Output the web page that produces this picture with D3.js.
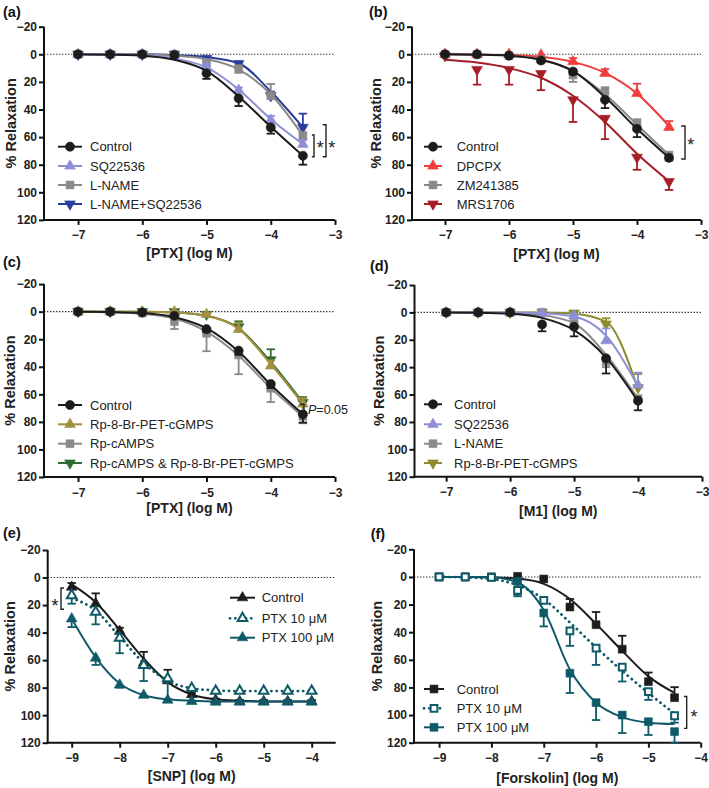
<!DOCTYPE html>
<html><head><meta charset="utf-8">
<script src="https://cdn.jsdelivr.net/npm/d3@7"></script>
<style>
body{margin:0;background:#fff}
text{font-family:"Liberation Sans",Arial,Helvetica,sans-serif}
</style>
</head><body><svg id="c" width="709" height="788"></svg>
<script>
// ---------- doses & ticks ----------
const dosePTX = [-7,-6.5,-6,-5.5,-5,-4.5,-4,-3.5];
const doseM1  = [-7,-6.5,-6,-5.5,-5,-4.5,-4];
const doseSNP = [-9,-8.5,-8,-7.5,-7,-6.5,-6,-5.5,-5,-4.5,-4];
const doseFSK = [-9,-8.5,-8,-7.5,-7,-6.5,-6,-5.5,-5,-4.5];
const yTicks = [-20,0,20,40,60,80,100,120];
const xTicksPTX = [-7,-6,-5,-4,-3];
const xTicksLow = [-9,-8,-7,-6,-5,-4];

// ---------- panel (a) ----------
const aNames = ["Control","SQ22536","L-NAME","L-NAME+SQ22536"];
const aCtrlMean = [0,0,0,0.5,13.8,31.9,53,73.5];
const aCtrlSem  = [0.5,0.5,0.5,1,4,5.6,4.5,6.5];
const aCtrlFit  = [0,0.3,1,4,12,30.5,52.5,73.5];
const aSQMean = [0,0,0,0.5,9,26,47.6,65.2];
const aSQSem  = [0,0,0,0.5,2,2,3,3];
const aSQFit  = [0,0.2,0.7,3,9.5,25.5,47,65];
const aLNMean = [0,0,0,0,6,11,30,59.5];
const aLNSem  = [0,0,0,0.5,2,3,8.5,3];
const aLNFit  = [0,0,0.2,1,3.5,11,29,59];
const aLSMean = [0,0,0,0,3,7,30,53];
const aLSSem  = [0,0,0,0.5,1,2,3,10];
const aLSFit  = [0,0,0,0.5,2,6.5,27,53];

// ---------- panel (b) ----------
const bNames = ["Control","DPCPX","ZM241385","MRS1706"];
const bCtrlMean = [0,0,1,4.5,12.5,33,54,75];
const bCtrlSem  = [0.5,0.5,1,1,2,6,6,2];
const bCtrlFit  = [0,0.3,1,4,12,31,54,75];
const bDPMean = [0,0,0,0.5,5.3,13.8,28.3,52.9];
const bDPSem  = [0,0,0,0.5,2.5,3,7,4.5];
const bDPFit  = [0,0.2,0.5,1.8,5.5,13.5,28.5,52];
const bZMMean = [0,0,1,4,15,26.3,49.5,73];
const bZMSem  = [0,0,0.5,1,5,3,3,2];
const bZMFit  = [0,0.3,1,3.8,12.5,29,51,73];
const bMRMean = [1,11,11,14,33,46.5,74.7,92.3];
const bMRSem  = [0,11,11,12,16,15,9,6];
const bMRFit  = [4,6,10,17,30,49,72,92];

// ---------- panel (c) ----------
const cNames = ["Control","Rp-8-Br-PET-cGMPS","Rp-cAMPS","Rp-cAMPS & Rp-8-Br-PET-cGMPS"];
const cCtrlMean = [0,0,0.5,3,12.7,28.3,52.5,74.5];
const cCtrlSem  = [0.5,0.5,0.5,1,2,3,3,6];
const cCtrlFit  = [0,0.3,1,4,12,29,53,74.5];
const cPGMean = [0,0,0,0,2,12.8,39.4,67];
const cPGSem  = [0,0,0,0.5,1,4.8,4,4.2];
const cPGFit  = [0,0,0.1,0.6,3,12.5,38,67];
const cRAMean = [0,0,1,7.2,15.7,31.4,55.6,76];
const cRASem  = [0,0,0.5,5.4,13,14,10,5];
const cRAFit  = [0,0.4,1.5,5,14.5,32,55.5,76];
const cBOMean = [0,0,0,0,2,11,35,66];
const cBOSem  = [0,0,0,0.5,1,4,7.7,4];
const cBOFit  = [0,0,0.1,0.6,3,12,36.5,66];

// ---------- panel (d) ----------
const dNames = ["Control","SQ22536","L-NAME","Rp-8-Br-PET-cGMPS"];
const dCtrlMean = [0,0,0,8.8,10.5,33.6,64.5];
const dCtrlSem  = [0.5,0.5,0.5,5,7,11,7];
const dCtrlFit  = [0,0.2,1,4,13,33,65];
const dSQMean = [0,0,0,1,2.5,20.7,53];
const dSQSem  = [0,0,0,0.5,1,9,9];
const dSQFit  = [0,0,0.1,0.6,3,17,54];
const dLNMean = [0,0,0,0,8,36,63];
const dLNSem  = [0,0,0,0.5,2,4,3];
const dLNFit  = [0,0,0.5,2,8,31,63];
const dPGMean = [0,0,0,0,0.5,8.5,55];
const dPGSem  = [0,0,0,0,0.5,4.2,10];
const dPGFit  = [0,0,0,0.1,1,7,56];

// ---------- panel (e) ----------
const eNames = ["Control","PTX 10 \u03bcM","PTX 100 \u03bcM"];
const eCtrlMean = [7,19,39,62,75,85,89,90,90,90,90];
const eCtrlSem  = [3,7.5,2.5,8,8,1,1,1,1,1,1];
const eCtrlFit  = [5,18,38,59,76,85,88.5,89.5,90,90,90];
const eP10Mean = [13,25,44,63.7,73.4,80.5,82.5,82.5,82.5,82.5,82.5];
const eP10Sem  = [6,9,11,11.5,15,2,1,1,1,1,1];
const eP10Fit  = [15,24,43,62,75,80.5,82,82.5,82.5,82.5,82.5];
const eP100Mean = [30,58.5,78,85.5,89,90,90.5,90.5,90.5,90.5,90.5];
const eP100Sem  = [6,5,2,1,1,1,1,1,1,1,1];
const eP100Fit  = [30,58,77,85.5,88.5,89.5,90,90,90,90,90];

// ---------- panel (f) ----------
const fNames = ["Control","PTX 10 \u03bcM","PTX 100 \u03bcM"];
const fCtrlMean = [0,0,0,-0.4,1.5,21.8,34.6,52.3,75.8,87.4];
const fCtrlSem  = [0,0,0,0.5,1,5.8,9.2,9.7,6.6,7.6];
const fCtrlFit  = [0,0,0.3,1.2,5,16,34,53.5,72,84];
const fP10Mean = [0,0,0.3,9.7,17,39,51.6,65.3,83,100.5];
const fP10Sem  = [0,0,0.3,4.3,2,10.9,12.1,10.4,6,5];
const fP10Fit  = [0,0.3,1.5,6,16,33,51,68,84,99];
const fP100Mean = [0,0,0,3.2,26.1,69.7,91,100,104.8,112];
const fP100Sem  = [0,0,0,9.6,9.7,14.3,12.6,13,9.6,8];
const fP100Fit  = [0,0,0.3,4,24,67,91,101.5,105.5,106.5];

// ---------- colours ----------
const C = {black:"#1c1c1c", lav:"#8e8ed6", gray:"#8a8a8a", blue:"#2a3d9c", red:"#f03c3c",
  dred:"#a51d27", gold:"#a38f3f", green:"#2f6d32", olive:"#8d8b2f", teal:"#0f5a68"};

function S(name,color,shape,dose,mean,sem,fit,dir,opts){
  return Object.assign({name,color,shape,dose,mean,sem,fit,dir,open:false,dotted:false},opts||{});
}

const panels = [
 {label:"(a)", lab:[3,16.5], left:44,right:335,top:26.7,bottom:219.9, xd:[-7.53,-3], xt:xTicksPTX,
  xtitle:"[PTX] (log M)", xtitleY:257.5, ytitleX:16,
  legend:{x1:58,x2:82,tx:90,y:[146.7,166,185,204]},
  series:[S(aNames[0],C.black,"circle",dosePTX,aCtrlMean,aCtrlSem,aCtrlFit,1),
          S(aNames[1],C.lav,"tri",dosePTX,aSQMean,aSQSem,aSQFit,-1),
          S(aNames[2],C.gray,"square",dosePTX,aLNMean,aLNSem,aLNFit,-1),
          S(aNames[3],C.blue,"tridown",dosePTX,aLSMean,aLSSem,aLSFit,-1)],
  order:[3,2,1,0],
  brackets:[{x:-3.327,tick:-3.36,y1:58.5,y2:74.2,star:-3.23,sy:66},
            {x:-3.14,tick:-3.19,y1:51,y2:74.2,star:-3.05,sy:66}]},
 {label:"(b)", lab:[369,16.5], left:412,right:701,top:26.7,bottom:219.9, xd:[-7.516,-3], xt:xTicksPTX,
  xtitle:"[PTX] (log M)", xtitleY:259, ytitleX:381,
  legend:{x1:424,x2:442,tx:456.7,y:[146.7,166,185,204]},
  series:[S(bNames[0],C.black,"circle",dosePTX,bCtrlMean,bCtrlSem,bCtrlFit,1),
          S(bNames[1],C.red,"tri",dosePTX,bDPMean,bDPSem,bDPFit,-1),
          S(bNames[2],C.gray,"square",dosePTX,bZMMean,bZMSem,bZMFit,1),
          S(bNames[3],C.dred,"tridown",dosePTX,bMRMean,bMRSem,bMRFit,1)],
  order:[3,1,2,0],
  brackets:[{x:-3.25,tick:-3.31,y1:52,y2:75.9,star:-3.16,sy:63.3}]},
 {label:"(c)", lab:[3,267], left:44,right:335,top:284.1,bottom:477, xd:[-7.53,-3], xt:xTicksPTX,
  xtitle:"[PTX] (log M)", xtitleY:513, ytitleX:15,
  legend:{x1:58,x2:82,tx:90,y:[405,424.3,443.7,463]},
  series:[S(cNames[0],C.black,"circle",dosePTX,cCtrlMean,cCtrlSem,cCtrlFit,1),
          S(cNames[1],C.gold,"tri",dosePTX,cPGMean,cPGSem,cPGFit,-1),
          S(cNames[2],C.gray,"square",dosePTX,cRAMean,cRASem,cRAFit,1),
          S(cNames[3],C.green,"tridown",dosePTX,cBOMean,cBOSem,cBOFit,-1)],
  order:[2,3,1,0],
  pnote:{x:-3.483,tick:-3.545,y1:67.2,y2:75.7,tx:-3.42,ty:74}},
 {label:"(d)", lab:[370,271], left:414.5,right:702,top:285,bottom:476.7, xd:[-7.495,-3], xt:xTicksPTX,
  xtitle:"[M1] (log M)", xtitleY:516, ytitleX:384,
  legend:{x1:424,x2:442,tx:454,y:[404.3,424.3,443.7,463]},
  series:[S(dNames[0],C.black,"circle",doseM1,dCtrlMean,dCtrlSem,dCtrlFit,1),
          S(dNames[1],C.lav,"tri",doseM1,dSQMean,dSQSem,dSQFit,-1),
          S(dNames[2],C.gray,"square",doseM1,dLNMean,dLNSem,dLNFit,1),
          S(dNames[3],C.olive,"tridown",doseM1,dPGMean,dPGSem,dPGFit,-1)],
  order:[3,2,1,0]},
 {label:"(e)", lab:[3,537.5], left:47.7,right:335.7,top:550,bottom:742.7, xd:[-9.5,-3.5], xt:xTicksLow,
  xtitle:"[SNP] (log M)", xtitleY:781, ytitleX:15,
  legend:{x1:230,x2:255,tx:261.7,y:[597.7,618.3,637.7]},
  series:[S(eNames[0],C.black,"tri",doseSNP,eCtrlMean,eCtrlSem,eCtrlFit,-1),
          S(eNames[1],C.teal,"tri",doseSNP,eP10Mean,eP10Sem,eP10Fit,1,{open:true,dotted:true}),
          S(eNames[2],C.teal,"tri",doseSNP,eP100Mean,eP100Sem,eP100Fit,1)],
  order:[0,2,1],
  brackets:[{x:-9.223,tick:-9.16,y1:7.6,y2:23,star:-9.35,sy:18.5}]},
 {label:"(f)", lab:[370.7,539], left:414,right:700.7,top:549.3,bottom:742.7, xd:[-9.48,-4], xt:xTicksLow,
  xtitle:"[Forskolin] (log M)", xtitleY:783, ytitleX:382,
  legend:{x1:424,x2:444,tx:456.7,y:[689,708.3,727.3]},
  series:[S(fNames[0],C.black,"square",doseFSK,fCtrlMean,fCtrlSem,fCtrlFit,-1),
          S(fNames[1],C.teal,"square",doseFSK,fP10Mean,fP10Sem,fP10Fit,1,{open:true,dotted:true}),
          S(fNames[2],C.teal,"square",doseFSK,fP100Mean,fP100Sem,fP100Fit,1)],
  order:[0,2,1],
  brackets:[{x:-4.268,tick:-4.32,y1:86.6,y2:109.6,star:-4.13,sy:99.5}]}
];

const svg = d3.select("#c");
const fmt = d => d3.format("")(d).replace("-","\u2212");

function symPath(shape, open){
  if(shape==="circle") return d3.symbol().type(d3.symbolCircle).size(66)();
  if(shape==="square") return d3.symbol().type(d3.symbolSquare).size(open?46:62)();
  return d3.symbol().type(d3.symbolTriangle).size(open?40:50)();
}
function drawMarker(g,s,cx,cy){
  const p = g.append("path").attr("d",symPath(s.shape,s.open))
    .attr("transform",`translate(${cx},${cy})`+(s.shape==="tridown"?" rotate(180)":""));
  if(s.open) p.attr("fill","#fff").attr("stroke",s.color).attr("stroke-width",2);
  else p.attr("fill",s.color).attr("stroke",s.color).attr("stroke-width",0.6);
}

panels.forEach(P=>{
  const g = svg.append("g");
  const x = d3.scaleLinear().domain(P.xd).range([P.left,P.right]);
  const y = d3.scaleLinear().domain([-20,120]).range([P.top,P.bottom]);

  // zero dotted line
  g.append("line").attr("x1",P.left).attr("x2",P.right).attr("y1",y(0)).attr("y2",y(0))
    .attr("stroke","#333").attr("stroke-width",1.1).attr("stroke-dasharray","1.4,1.6");

  // axes
  const ya = g.append("g").attr("transform",`translate(${P.left},0)`)
    .call(d3.axisLeft(y).tickValues(yTicks).tickSize(5).tickSizeOuter(0).tickPadding(2).tickFormat(fmt));
  const xa = g.append("g").attr("transform",`translate(0,${P.bottom})`)
    .call(d3.axisBottom(x).tickValues(P.xt).tickSize(5).tickSizeOuter(0).tickPadding(6).tickFormat(fmt));
  [ya,xa].forEach(a=>{
    a.select(".domain").attr("stroke","#111").attr("stroke-width",2);
    a.selectAll(".tick line").attr("stroke","#111").attr("stroke-width",2);
    a.selectAll(".tick text").attr("font-size",12).attr("font-weight","bold").attr("fill","#222")
      .style("font-family",'"Liberation Sans",Arial,sans-serif');
  });
  ya.select(".domain").attr("d",`M0,${P.top}V${P.bottom+1}`);
  xa.select(".domain").attr("d",`M${P.left-1},0H${P.right}`);

  // titles
  g.append("text").attr("x",(P.left+P.right)/2).attr("y",P.xtitleY).attr("text-anchor","middle")
    .attr("font-size",14).attr("font-weight","bold").attr("fill","#222").text(P.xtitle);
  g.append("text").attr("transform",`translate(${P.ytitleX},${(P.top+P.bottom)/2}) rotate(-90)`)
    .attr("text-anchor","middle").attr("font-size",14.5).attr("font-weight","bold").attr("fill","#222").text("% Relaxation");
  g.append("text").attr("x",P.lab[0]).attr("y",P.lab[1]).attr("font-size",14.5).attr("font-weight","bold")
    .attr("fill","#111").text(P.label);

  // series
  const line = d3.line().x(d=>x(d[0])).y(d=>y(d[1])).curve(d3.curveMonotoneX);
  P.order.forEach(i=>{
    const s = P.series[i];
    const sg = g.append("g");
    sg.append("path").attr("d",line(s.dose.map((d,k)=>[d,s.fit[k]])))
      .attr("fill","none").attr("stroke",s.color).attr("stroke-width",s.dotted?2.8:2)
      .attr("stroke-dasharray",s.dotted?"0.1,5.2":null).attr("stroke-linecap",s.dotted?"round":"butt");
    s.dose.forEach((d,k)=>{
      if(s.sem[k]>0.6){
        const cx=x(d), y0=y(s.mean[k]), y1=y(s.mean[k]+s.dir*s.sem[k]);
        sg.append("line").attr("x1",cx).attr("x2",cx).attr("y1",y0).attr("y2",y1)
          .attr("stroke",s.color).attr("stroke-width",1.8);
        sg.append("line").attr("x1",cx-4.2).attr("x2",cx+4.2).attr("y1",y1).attr("y2",y1)
          .attr("stroke",s.color).attr("stroke-width",1.8);
      }
    });
    s.dose.forEach((d,k)=>drawMarker(sg,s,x(d),y(s.mean[k])));
  });

  // legend
  P.series.forEach((s,i)=>{
    const ly = P.legend.y[i];
    g.append("line").attr("x1",P.legend.x1).attr("x2",P.legend.x2).attr("y1",ly).attr("y2",ly)
      .attr("stroke",s.color).attr("stroke-width",s.dotted?2.8:2)
      .attr("stroke-dasharray",s.dotted?"0.1,5.2":null).attr("stroke-linecap",s.dotted?"round":"butt");
    drawMarker(g,s,(P.legend.x1+P.legend.x2)/2,ly);
    g.append("text").attr("x",P.legend.tx).attr("y",ly+4.6).attr("font-size",13).attr("fill","#222").text(s.name);
  });

  // significance brackets
  (P.brackets||[]).forEach(b=>{
    g.append("path").attr("d",`M${x(b.tick)},${y(b.y1)}H${x(b.x)}V${y(b.y2)}H${x(b.tick)}`)
      .attr("fill","none").attr("stroke","#222").attr("stroke-width",1.4);
    g.append("text").attr("x",x(b.star)).attr("y",y(b.sy)+9).attr("text-anchor","middle")
      .attr("font-size",18).attr("fill","#222").text("*");
  });
  if(P.pnote){
    const b=P.pnote;
    g.append("path").attr("d",`M${x(b.tick)},${y(b.y1)}H${x(b.x)}V${y(b.y2)}H${x(b.tick)}`)
      .attr("fill","none").attr("stroke","#222").attr("stroke-width",1.4);
    const t = g.append("text").attr("x",x(b.tx)).attr("y",y(b.ty)).attr("font-size",12.5).attr("fill","#222");
    t.append("tspan").attr("font-style","italic").text("P");
    t.append("tspan").text("=0.05");
  }
});
</script>
</body></html>
